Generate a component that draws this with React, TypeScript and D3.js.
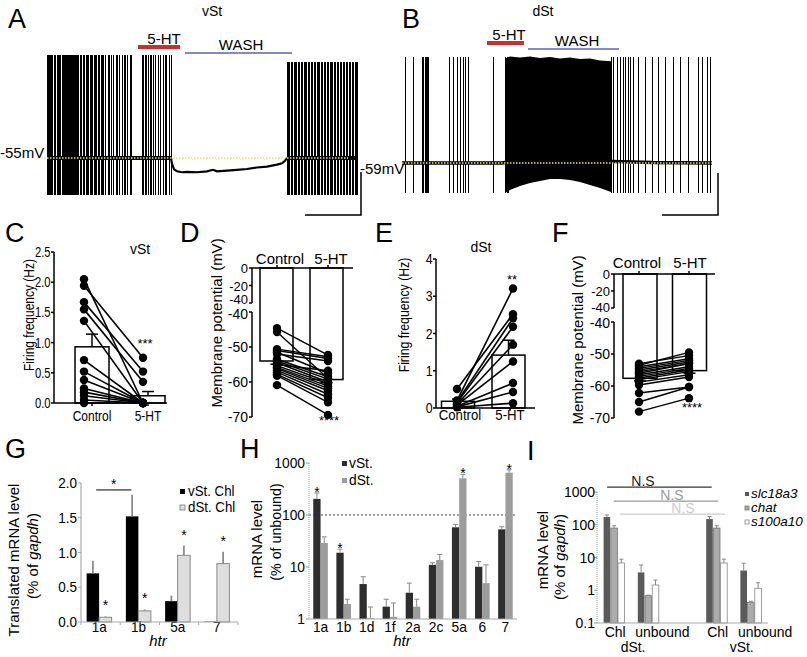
import React from "react";
import * as d3 from "d3";

const FONT = "'Liberation Sans', Arial, Helvetica, sans-serif";

// ---------- A : vSt trace (time in s, voltage in mV) ----------
const aSpikes1 = [0,1,2,3,4,5,7,8,10,11,12,13,15,16,17,18,19,20,21,22,23,24,25,26,27,28,29,30,31,33,34,36,37,39,40,41,43,44,45,47,48,49,51,52,54,55,56,58,61,62,64,66,69,70,72,75,77,78,80,83,84,95,96,98,99,101,103,104,106,108,111,113,116,118,119,122,124];
const aSpikes3 = [240,241,242,244,245,247,248,249,251,252,254,255,257,258,259,261,262,264,265,267,268,270,271,272,274,275,277,278,280,281,283,284,285,287,288,290,291,293,294,296,297,299,300,302,303,305,306,308,309,310];
const aHypT = [124,125,127,130,135,140,150,160,166,170,180,190,200,210,220,230,235,238,240];
const aHypV = [-55,-58,-61,-62,-62.5,-62.3,-62.5,-62,-61.2,-62,-61.6,-61.2,-60.8,-60,-59.5,-58.5,-57.8,-56.5,-55];

// ---------- B : dSt trace ----------
const bSpikes = [3,11,20,21,23,24,25,26,47,51,55,58,61,63,66,91,103,105,106,209,211,215,218,221,223,226,228,231,236,243,250,256,263,271,278,286,296,300,305,308];
const bDenseT = [103,108,118,128,138,148,158,168,178,188,198,209];
const bDenseTop = [-4,-3,-3.5,-3,-3.8,-3.2,-4,-3.5,-4.2,-4,-5,-5.5];
const bDenseBot = [-74.8,-73.2,-71.1,-69.5,-68.5,-67.4,-67.4,-67.9,-69,-70.6,-72.2,-74.3];
const bBaseT = [0,100,110,210,250,310];
const bBaseV = [-59,-59,-58.2,-58.2,-58.8,-59];

// ---------- C ----------
const conds = ["Control", "5-HT"];
const cControl = [2.05,1.94,1.67,1.55,1.36,0.71,0.52,0.38,0.24,0.18,0.12,0.05,0.0];
const c5HT = [0.0,0.75,0.52,0.35,0.0,0.0,0.0,0.0,0.0,0.0,0.0,0.0,0.0];
const cMeans = [0.93, 0.12];
const cSem = [0.21, 0.07];

// ---------- D ----------
const dControl = [-44.6,-45.7,-50.6,-51.0,-51.5,-52.0,-53.5,-54.0,-54.5,-55.0,-55.3,-55.8,-56.2,-56.7,-57.2,-57.8,-58.2,-60.9];
const d5HT = [-52.3,-59.0,-52.8,-53.3,-57.5,-54.0,-58.5,-59.2,-60.0,-56.8,-60.5,-61.2,-61.8,-62.5,-63.5,-64.5,-65.8,-69.4];
const dMeans = [-54.0, -59.3];
const dSem = [0.9, 0.9];

// ---------- E ----------
const eControl = [0.2,0.51,0.17,0.14,0.1,0.08,0.05,0.03,0.02];
const e5HT = [3.21,2.52,2.41,2.18,1.70,1.25,0.67,0.43,0.13];
const eMeans = [0.18, 1.42];
const eSem = [0.06, 0.4];

// ---------- F ----------
const fControl = [-53,-53.5,-54,-54.5,-55,-55.5,-56,-56.5,-57,-57.5,-58,-58.8,-59.7,-62.2,-65,-68];
const f5HT = [-50.5,-49.5,-51.5,-52,-52.5,-53,-53,-54,-54.5,-55,-55.5,-56.5,-57.2,-60.3,-60.3,-63.8];
const fMeans = [-57.6, -55.2];
const fSem = [0.8, 0.8];

// ---------- G ----------
const gCats = ["1a","1b","5a","7"];
const gVst = [0.70, 1.52, 0.30, 0.005];
const gVstSem = [0.18, 0.31, 0.08, 0];
const gDst = [0.068, 0.16, 0.96, 0.84];
const gDstSem = [0.012, 0.02, 0.14, 0.17];
const gYTicks = [0, 0.5, 1.0, 1.5, 2.0];

// ---------- H ----------
const hCats = ["1a","1b","1d","1f","2a","2c","5a","6","7"];
const hVst = [204, 18.8, 4.7, 1.73, 3.2, 11, 58, 10.1, 53];
const hVstSem = [61, 3.2, 1.8, 0.67, 1.7, 1.1, 8, 2.6, 6.5];
const hDst = [29, 1.95, 1.05, 1.1, 1.73, 13.6, 508, 4.9, 650];
const hDstSem = [9, 0.45, 0.65, 0.93, 0.67, 3.9, 97, 6.1, 90];
const hStarVst = [true, true, false, false, false, false, false, false, false];
const hStarDst = [false, false, false, false, false, false, true, false, true];
const hYTicks = [1, 10, 100, 1000];

// ---------- I ----------
const iGroups = ["dSt.Chl","dSt.unbound","gap","vSt.Chl","vSt.unbound"];
const iGroupLabels = ["Chl","unbound","","Chl","unbound"];
const iGenes = ["slc18a3","chat","s100a10"];
const iSlc = [172, 3.5, 149, 4.0];
const iSlcUp = [200, 5.9, 179, 6.7];
const iChat = [79, 0.68, 79, 0.43];
const iChatUp = [93, 0.71, 93, 0.46];
const iS100 = [6.8, 1.45, 6.8, 1.15];
const iS100Up = [8.9, 2.05, 8.9, 1.7];
const iNSLevels = [1400, 530, 210];
const iYTicks = [0.1, 1, 10, 100, 1000];

const txt = (x, y, s, size = 15, anchor = "middle", extra: any = {}) => {
  const { sx = 1, ...rest } = extra;
  return (
    <text transform={`translate(${x},${y}) scale(${sx},1)`} fontSize={size} textAnchor={anchor} fontFamily={FONT} {...rest}>{s}</text>
  );
};

const RotLabel = ({ x, y, children, size = 15, sx = 1 }: any) => (
  <text transform={`translate(${x},${y}) rotate(-90) scale(${sx},1)`} textAnchor="middle" dy="0.35em" fontSize={size} fontFamily={FONT}>{children}</text>
);

function Trace({ tScale, vScale, spikes, peak, bottom, width = 1 }: any) {
  return (
    <g shapeRendering="crispEdges">
      {spikes.map((t, i) => {
        const x = Math.round(tScale(t)) + 0.5;
        return <line key={i} x1={x} x2={x} y1={vScale(peak)} y2={vScale(bottom)} stroke="#000" strokeWidth={width} />;
      })}
    </g>
  );
}

function PanelA() {
  const tA = d3.scaleLinear().domain([0, 310]).range([47, 357]);
  const vA = d3.scaleLinear().domain([-55, 0]).range([158, 158 - 55 * 1.9]);
  const hyp = d3.line().x((d) => tA(d[0])).y((d) => vA(d[1]));
  return (
    <g>
      {txt(8, 28, "A", 27, "start")}
      {txt(212, 16, "vSt", 14)}
      <line x1={tA(0)} x2={tA(124)} y1={vA(-55)} y2={vA(-55)} stroke="#000" strokeWidth={4} />
      <line x1={tA(240)} x2={tA(310)} y1={vA(-55)} y2={vA(-55)} stroke="#000" strokeWidth={4} />
      <Trace tScale={tA} vScale={vA} spikes={aSpikes1} peak={-1} bottom={-74.5} width={1.6} />
      <Trace tScale={tA} vScale={vA} spikes={aSpikes3} peak={-4.5} bottom={-74.5} width={1.4} />
      <path d={hyp(aHypT.map((t, i) => [t, aHypV[i]]))} fill="none" stroke="#000" strokeWidth={2.2} />
      <line x1={38} x2={348} y1={vA(-55)} y2={vA(-55)} stroke="#f2e24a" strokeWidth={1.6} strokeDasharray="1.5,1.5" />
      {txt(0, 158, "-55mV", 15, "start")}
      <line x1={138} x2={180} y1={47} y2={47} stroke="#c9302c" strokeWidth={4} />
      {txt(164, 44, "5-HT", 15)}
      <line x1={185} x2={292} y1={53} y2={53} stroke="#5a63a8" strokeWidth={1.5} />
      {txt(241, 50, "WASH", 15)}
      <path d="M305,215 H361 V172" fill="none" stroke="#000" strokeWidth={1.5} />
    </g>
  );
}

function PanelB() {
  const tB = d3.scaleLinear().domain([0, 310]).range([402, 712]);
  const vB = d3.scaleLinear().domain([-59, 0]).range([163, 163 - 59 * 1.9]);
  const base = d3.line().x((d) => tB(d[0])).y((d) => vB(d[1]));
  const area = d3.area().x((d) => tB(d[0])).y0((d) => vB(d[2])).y1((d) => vB(d[1]));
  return (
    <g>
      {txt(402, 28, "B", 27, "start")}
      {txt(543, 16, "dSt", 14)}
      <path d={base(bBaseT.map((t, i) => [t, bBaseV[i]]))} fill="none" stroke="#000" strokeWidth={3.5} />
      <path d={area(bDenseT.map((t, i) => [t, bDenseTop[i], bDenseBot[i]]))} fill="#000" />
      <Trace tScale={tB} vScale={vB} spikes={bSpikes} peak={-3} bottom={-74.8} width={1} />
      <line x1={402} x2={712} y1={vB(-59)} y2={vB(-59)} stroke="#f2e24a" strokeWidth={1.6} strokeDasharray="1.5,1.5" />
      {txt(360, 174, "-59mV", 15, "start")}
      <line x1={487} x2={524} y1={43} y2={43} stroke="#c9302c" strokeWidth={4} />
      {txt(509, 40, "5-HT", 15)}
      <line x1={528} x2={619} y1={49} y2={49} stroke="#5a63a8" strokeWidth={1.5} />
      {txt(577, 46, "WASH", 15)}
      <path d="M662,215 H718 V173" fill="none" stroke="#000" strokeWidth={1.5} />
    </g>
  );
}

function Paired({ y, axisX, xEnd, ticks, fmt, ctrl, trt, means, sems, barX, barW, ptX, labX, labY, sx }: any) {
  const y0 = y(0);
  const top = y.range()[1];
  return (
    <g>
      {means.map((m, i) => (
        <rect key={i} x={barX[i] - barW / 2} y={y(m)} width={barW} height={y0 - y(m)} fill="#fff" stroke="#000" strokeWidth={1.5} />
      ))}
      {means.map((m, i) => (
        <g key={"e" + i}>
          <line x1={barX[i]} x2={barX[i]} y1={y(m)} y2={y(m + sems[i])} stroke="#000" strokeWidth={1.5} />
          <line x1={barX[i] - 6} x2={barX[i] + 6} y1={y(m + sems[i])} y2={y(m + sems[i])} stroke="#000" strokeWidth={1.5} />
        </g>
      ))}
      {ctrl.map((c, i) => (
        <line key={i} x1={ptX[0]} x2={ptX[1]} y1={y(c)} y2={y(trt[i])} stroke="#000" strokeWidth={1.6} />
      ))}
      {ctrl.map((c, i) => <circle key={"a" + i} cx={ptX[0]} cy={y(c)} r={4.2} fill="#000" />)}
      {trt.map((c, i) => <circle key={"b" + i} cx={ptX[1]} cy={y(c)} r={4.2} fill="#000" />)}
      <line x1={axisX} x2={axisX} y1={top} y2={y0} stroke="#000" strokeWidth={1.5} />
      <line x1={axisX} x2={xEnd} y1={y0} y2={y0} stroke="#000" strokeWidth={1.5} />
      {ticks.map((t) => (
        <g key={t}>
          <line x1={axisX - 3} x2={axisX} y1={y(t)} y2={y(t)} stroke="#000" strokeWidth={1.5} />
          {txt(axisX - 3.5, y(t) + 5, fmt(t), 14, "end", { sx })}
        </g>
      ))}
      {conds.map((c, i) => (
        <g key={c}>
          <line x1={labX[i]} x2={labX[i]} y1={y0} y2={y0 + 3} stroke="#000" strokeWidth={1.5} />
          {txt(labX[i], labY, c, 15, "middle", { sx })}
        </g>
      ))}
    </g>
  );
}

function Broken({ yT, yB, axisX, xEnd, ctrl, trt, means, sems, barX, barW, ptX, labX, labY, topOff, botOff }: any) {
  const axY = yT(0);
  const topTicks = [0, -20, -40];
  const botTicks = [-40, -50, -60, -70];
  return (
    <g>
      {means.map((m, i) => (
        <rect key={i} x={barX[i] - barW / 2} y={axY} width={barW} height={yB(m) - axY} fill="#fff" stroke="#000" strokeWidth={1.5} />
      ))}
      {means.map((m, i) => (
        <g key={"e" + i}>
          <line x1={barX[i]} x2={barX[i]} y1={yB(m)} y2={yB(m - sems[i])} stroke="#000" strokeWidth={1.5} />
          <line x1={barX[i] - 6} x2={barX[i] + 6} y1={yB(m - sems[i])} y2={yB(m - sems[i])} stroke="#000" strokeWidth={1.5} />
        </g>
      ))}
      {ctrl.map((c, i) => (
        <line key={i} x1={ptX[0]} x2={ptX[1]} y1={yB(c)} y2={yB(trt[i])} stroke="#000" strokeWidth={1.4} />
      ))}
      {ctrl.map((c, i) => <circle key={"a" + i} cx={ptX[0]} cy={yB(c)} r={4.2} fill="#000" />)}
      {trt.map((c, i) => <circle key={"b" + i} cx={ptX[1]} cy={yB(c)} r={4.2} fill="#000" />)}
      <line x1={axisX} x2={axisX} y1={axY} y2={yT(-40)} stroke="#000" strokeWidth={1.5} />
      <line x1={axisX} x2={axisX} y1={yB(-40)} y2={yB(-70)} stroke="#000" strokeWidth={1.5} />
      <line x1={axisX} x2={xEnd} y1={axY} y2={axY} stroke="#000" strokeWidth={1.5} />
      {topTicks.map((t) => (
        <g key={"t" + t}>
          <line x1={axisX - 3} x2={axisX} y1={yT(t)} y2={yT(t)} stroke="#000" strokeWidth={1.5} />
          {txt(axisX - 4, yT(t) + (t === -40 ? topOff : 5), String(t), 13, "end")}
        </g>
      ))}
      {botTicks.map((t) => (
        <g key={"b" + t}>
          <line x1={axisX - 3} x2={axisX} y1={yB(t)} y2={yB(t)} stroke="#000" strokeWidth={1.5} />
          {txt(axisX - 4, yB(t) + (t === -40 ? botOff : 5), String(t), 14, "end")}
        </g>
      ))}
      {conds.map((c, i) => (
        <g key={c}>
          <line x1={ptX[i]} x2={ptX[i]} y1={axY} y2={axY - 3} stroke="#000" strokeWidth={1.5} />
          {txt(labX[i], labY, c, 15)}
        </g>
      ))}
    </g>
  );
}

function PanelG() {
  const x = d3.scaleBand().domain(gCats).range([81, 238]);
  const y = d3.scaleLinear().domain([0, 2]).range([622, 483]);
  const bw = 12.5;
  const c = (k) => x(k) + x.bandwidth() / 2 - 1.5;
  const sx = 0.9;
  return (
    <g>
      {txt(5, 458, "G", 27, "start")}
      {gCats.map((k, i) => (
        <g key={k}>
          <rect x={c(k) - bw} y={y(gVst[i])} width={bw} height={y(0) - y(gVst[i])} fill="#000" />
          <rect x={c(k)} y={y(gDst[i])} width={bw} height={y(0) - y(gDst[i])} fill="#dedede" stroke="#8a8a8a" strokeWidth={1} />
          {gVstSem[i] > 0 && <line x1={c(k) - bw / 2} x2={c(k) - bw / 2} y1={y(gVst[i])} y2={y(gVst[i] + gVstSem[i])} stroke="#8a8a8a" strokeWidth={1.8} />}
          <line x1={c(k) + bw / 2} x2={c(k) + bw / 2} y1={y(gDst[i])} y2={y(gDst[i] + gDstSem[i])} stroke="#8a8a8a" strokeWidth={1.8} />
          {txt(c(k) + bw / 2, y(gDst[i] + gDstSem[i]) - 6, "*", 14)}
          {txt(c(k), 632, k, 15, "middle", { sx })}
        </g>
      ))}
      <line x1={c("1a") - 3} x2={c("1b") - 7} y1={y(1.9)} y2={y(1.9)} stroke="#000" strokeWidth={1} />
      {txt((c("1a") + c("1b")) / 2 - 5, y(1.9) - 1, "*", 14)}
      <line x1={81} x2={81} y1={y(2)} y2={y(0)} stroke="#aaa" strokeWidth={1.2} />
      <line x1={81} x2={238} y1={y(0)} y2={y(0)} stroke="#aaa" strokeWidth={1.2} />
      {gYTicks.map((t) => (
        <g key={t}>
          <line x1={78} x2={81} y1={y(t)} y2={y(t)} stroke="#aaa" />
          {txt(77, y(t) + 5, d3.format(".1f")(t), 15, "end", { sx })}
        </g>
      ))}
      {gCats.map((k) => <line key={k} x1={x(k)} x2={x(k)} y1={y(0)} y2={y(0) + 3} stroke="#aaa" />)}
      <line x1={238} x2={238} y1={y(0)} y2={y(0) + 3} stroke="#aaa" />
      {txt(158, 646, "htr", 15, "middle", { fontStyle: "italic" })}
      <rect x={180} y={489} width={5} height={5} fill="#000" />
      {txt(188, 496, "vSt. Chl", 14, "start", { sx: 0.95 })}
      <rect x={180} y={505} width={5} height={5} fill="#e0e0e0" stroke="#777" strokeWidth={0.8} />
      {txt(188, 512, "dSt. Chl", 14, "start", { sx: 0.95 })}
      <RotLabel x={14} y={560}>Translated mRNA level</RotLabel>
      <RotLabel x={33} y={556}>(% of <tspan fontStyle="italic">gapdh</tspan>)</RotLabel>
    </g>
  );
}

function PanelH() {
  const x = d3.scaleBand().domain(hCats).range([309, 517]);
  const y = d3.scaleLog().domain([1, 1000]).range([619, 463]);
  const bw = 7.3;
  const sx = 0.92;
  const c = (k) => x(k) + x.bandwidth() / 2;
  const err = (cx, v, s) => (
    <g>
      <line x1={cx} x2={cx} y1={y(v)} y2={y(v + s)} stroke="#888" strokeWidth={1} />
      <line x1={cx - 2.5} x2={cx + 2.5} y1={y(v + s)} y2={y(v + s)} stroke="#888" strokeWidth={1} />
    </g>
  );
  return (
    <g>
      {txt(240, 458, "H", 27, "start")}
      <line x1={309} x2={517} y1={y(100)} y2={y(100)} stroke="#444" strokeWidth={1} strokeDasharray="2,2" />
      {hCats.map((k, i) => (
        <g key={k}>
          <rect x={c(k) - bw} y={y(hVst[i])} width={bw} height={y(1) - y(hVst[i])} fill="#2e2e2e" />
          <rect x={c(k)} y={y(hDst[i])} width={bw} height={y(1) - y(hDst[i])} fill="#9c9c9c" />
          {err(c(k) - bw / 2, hVst[i], hVstSem[i])}
          {err(c(k) + bw / 2, hDst[i], hDstSem[i])}
          {hStarVst[i] && txt(c(k) - bw / 2, y(hVst[i] + hVstSem[i]) + 4, "*", 14)}
          {hStarDst[i] && txt(c(k) + bw / 2, y(hDst[i] + hDstSem[i]) + 4, "*", 14)}
          {txt(c(k), 632, k, 15, "middle", { sx })}
        </g>
      ))}
      <line x1={309} x2={309} y1={y(1000)} y2={y(1)} stroke="#999" strokeWidth={1} strokeDasharray="1,1" />
      <line x1={309} x2={517} y1={y(1)} y2={y(1)} stroke="#aaa" strokeWidth={1.2} />
      {hYTicks.map((t) => (
        <g key={t}>
          <line x1={306} x2={309} y1={y(t)} y2={y(t)} stroke="#999" />
          {txt(305, y(t) + 5, String(t), 15, "end", { sx })}
        </g>
      ))}
      {txt(402, 646, "htr", 15, "middle", { fontStyle: "italic" })}
      <rect x={342} y={461} width={5} height={5} fill="#2e2e2e" />
      {txt(349, 468, "vSt.", 15, "start", { sx })}
      <rect x={342} y={478} width={5} height={5} fill="#9c9c9c" />
      {txt(349, 485, "dSt.", 15, "start", { sx })}
      <RotLabel x={257} y={539}>mRNA level</RotLabel>
      <RotLabel x={276} y={532} sx={0.95}>(% of unbound)</RotLabel>
    </g>
  );
}

function PanelI() {
  const x = d3.scaleBand().domain(iGroups).range([597, 768]);
  const y = d3.scaleLog().domain([0.1, 1000]).range([623, 492]);
  const bw = 6.6;
  const step = 7.2;
  const sx = 0.93;
  const c = (i) => x(iGroups[i]) + x.bandwidth() / 2;
  const series = [
    { v: iSlc, up: iSlcUp, fill: "#5a5a5a", stroke: "none" },
    { v: iChat, up: iChatUp, fill: "#ababab", stroke: "#777" },
    { v: iS100, up: iS100Up, fill: "#ffffff", stroke: "#888" },
  ];
  const gIdx = [0, 1, 3, 4];
  const nsColors = ["#333", "#999", "#ccc"];
  return (
    <g>
      {txt(527, 460, "I", 27, "start")}
      {gIdx.map((gi, j) => (
        <g key={gi}>
          {series.map((s, k) => {
            const cx = c(gi) + (k - 1) * step;
            return (
              <g key={k}>
                <rect x={cx - bw / 2} y={y(s.v[j])} width={bw} height={y(0.1) - y(s.v[j])} fill={s.fill} stroke={s.stroke} strokeWidth={0.8} />
                <line x1={cx} x2={cx} y1={y(s.v[j])} y2={y(s.up[j])} stroke="#888" strokeWidth={1} />
                <line x1={cx - 2} x2={cx + 2} y1={y(s.up[j])} y2={y(s.up[j])} stroke="#888" strokeWidth={1} />
              </g>
            );
          })}
        </g>
      ))}
      {iNSLevels.map((lv, k) => (
        <g key={k}>
          <line x1={c(0) - 7 + 6.5 * k} x2={c(3) - 5 + 6.5 * k} y1={y(lv)} y2={y(lv)} stroke={nsColors[k]} strokeWidth={1.2} />
          {txt(643 + [0, 29, 40][k], y(lv) - 1.5, "N.S", 14, "middle", { fill: nsColors[k] === "#333" ? "#222" : nsColors[k] })}
        </g>
      ))}
      <line x1={597} x2={597} y1={y(1000)} y2={y(0.1)} stroke="#999" strokeWidth={1} strokeDasharray="1,1" />
      <line x1={597} x2={768} y1={y(0.1)} y2={y(0.1)} stroke="#aaa" strokeWidth={1.2} />
      {iYTicks.map((t) => (
        <g key={t}>
          <line x1={594} x2={597} y1={y(t)} y2={y(t)} stroke="#999" />
          {txt(595, y(t) + 5, String(t), 15, "end", { sx })}
        </g>
      ))}
      {iGroupLabels.map((l, i) =>
        l === "" ? null : l === "Chl" ? (
          <g key={i}>{txt(c(i) + 1, 637, l, 15, "middle", { sx })}</g>
        ) : (
          <g key={i}>{txt(c(i) - 13, 637, l, 15, "start", { sx })}</g>
        )
      )}
      {txt(c(0) + 19, 652, "dSt.", 15, "middle", { sx })}
      {txt(c(3) + 25, 652, "vSt.", 15, "middle", { sx })}
      {iGenes.map((g, k) => (
        <g key={g}>
          <rect x={745} y={492 + k * 14} width={4} height={4} fill={series[k].fill} stroke={series[k].stroke} strokeWidth={0.8} />
          {txt(751, 498 + k * 14, g, 13.5, "start", { fontStyle: "italic" })}
        </g>
      ))}
      <RotLabel x={543} y={550}>mRNA level</RotLabel>
      <RotLabel x={560} y={557}>(% of <tspan fontStyle="italic">gapdh</tspan>)</RotLabel>
    </g>
  );
}

export default function App() {
  const yC = d3.scaleLinear().domain([0, 2.5]).range([403, 252]);
  const yE = d3.scaleLinear().domain([0, 4]).range([408, 259]);
  const yDt = d3.scaleLinear().domain([-40, 0]).range([303, 268]);
  const yDb = d3.scaleLinear().domain([-70, -40]).range([417, 312]);
  const yFt = d3.scaleLinear().domain([-40, 0]).range([308, 274]);
  const yFb = d3.scaleLinear().domain([-70, -40]).range([418, 322]);
  return (
    <svg width={807} height={657} style={{ position: "absolute", left: 0, top: 0, background: "#fff" }} fontFamily={FONT}>
      <rect x={0} y={0} width={807} height={657} fill="#fff" />
      <PanelA />
      <PanelB />

      {/* C */}
      {txt(5, 242, "C", 27, "start")}
      {txt(140, 254, "vSt", 14)}
      <Paired y={yC} axisX={54} xEnd={167} ticks={[0, 0.5, 1, 1.5, 2, 2.5]} fmt={d3.format(".1f")} sx={0.8}
        ctrl={cControl} trt={c5HT} means={cMeans} sems={cSem} barX={[92, 148]} barW={34} ptX={[84, 143]} labX={[92, 148]} labY={421} />
      {txt(145, 348, "***", 13)}
      <RotLabel x={29} y={315} sx={0.8}>Firing frequency (Hz)</RotLabel>

      {/* D */}
      {txt(180, 242, "D", 27, "start")}
      <Broken yT={yDt} yB={yDb} axisX={252} xEnd={353} ctrl={dControl} trt={d5HT} means={dMeans} sems={dSem}
        barX={[276.5, 326.5]} barW={33} ptX={[277, 328]} labX={[280, 331]} labY={264} topOff={1} botOff={7} />
      {txt(329, 425, "****", 13)}
      <RotLabel x={217} y={323}>Membrane potential (mV)</RotLabel>

      {/* E */}
      {txt(375, 242, "E", 27, "start")}
      {txt(481, 252, "dSt", 14)}
      <Paired y={yE} axisX={436} xEnd={535} ticks={[0, 1, 2, 3, 4]} fmt={d3.format("d")} sx={0.88}
        ctrl={eControl} trt={e5HT} means={eMeans} sems={eSem} barX={[458, 508.5]} barW={33} ptX={[457, 513]} labX={[460, 510]} labY={420} />
      {txt(512, 284, "**", 13)}
      <RotLabel x={404} y={315} sx={0.82}>Firing frequency (Hz)</RotLabel>

      {/* F */}
      {txt(552, 242, "F", 27, "start")}
      <Broken yT={yFt} yB={yFb} axisX={614} xEnd={715} ctrl={fControl} trt={f5HT} means={fMeans} sems={fSem}
        barX={[640, 689.5]} barW={34} ptX={[639, 689]} labX={[637, 690]} labY={268} topOff={4} botOff={6} />
      {txt(692, 412, "****", 13)}
      <RotLabel x={578} y={340}>Membrane potential (mV)</RotLabel>

      <PanelG />
      <PanelH />
      <PanelI />
    </svg>
  );
}
